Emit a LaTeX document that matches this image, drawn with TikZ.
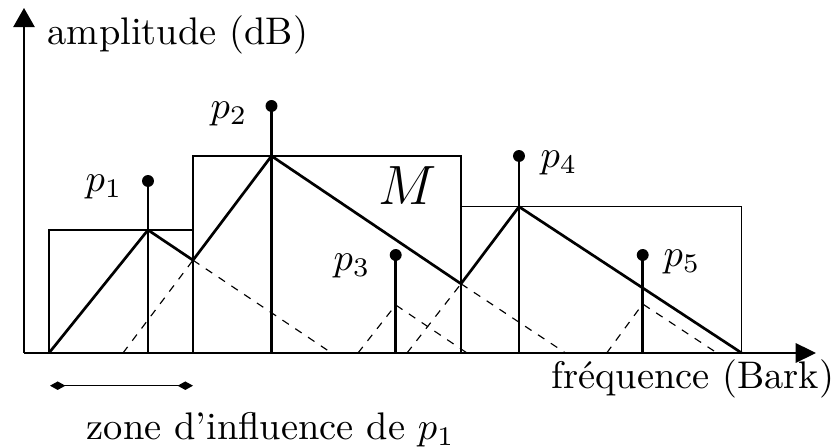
\documentclass[tikz,border=0pt]{standalone}
\usetikzlibrary{arrows.meta}
\begin{document}
\begin{tikzpicture}[x=0.26pt,y=-0.26pt,
  thinline/.style={line width=0.35pt},
  maskline/.style={line width=0.7pt, line join=miter},
  stemline/.style={line width=0.65pt},
  dashline/.style={line width=0.3pt, dash pattern=on 2pt off 2pt},
  dotnode/.style={circle, fill, inner sep=0pt, minimum size=3.1pt},
  lbl/.style={inner sep=0pt}]
\useasboundingbox (0,0) rectangle (839,447);
% axes
\coordinate (O) at (24,353);
\coordinate (Ytop) at (24,8);
\coordinate (Xend) at (816,353);
\draw[thinline,-{Triangle[length=5pt,width=5.6pt]}] (O) -- (Ytop);
\draw[thinline,-{Triangle[length=5.3pt,width=5.1pt]}] (O) -- (Xend);
% rectangles
\draw[thinline] (49,353) rectangle (193,230);
\draw[thinline] (193,353) rectangle (461,156);
\draw[thinline] (461,353) rectangle (741.7,206.7);
% peaks and bases
\coordinate (pk1) at (148,230);
\coordinate (pk2) at (271.5,156);
\coordinate (pk3) at (395.7,305);
\coordinate (pk4) at (519,206.7);
\coordinate (pk5) at (642.7,304);
\coordinate (b1) at (148,353);
\coordinate (b2) at (271.5,353);
\coordinate (b3) at (395.7,353);
\coordinate (b4) at (519,353);
\coordinate (b5) at (642.7,353);
\coordinate (c12) at (193,260.2);
\coordinate (c24) at (461,283.8);
\coordinate (m0) at (49,353);
\coordinate (m5) at (741.7,353);
% dashed partial curves
\draw[dashline] (c12) -- (331.6,353);
\draw[dashline] (123,353) -- (c12);
\draw[dashline] (c24) -- (565.5,353);
\draw[dashline] (358,353) -- (pk3) -- (467,353);
\draw[dashline] (407,353) -- (c24);
\draw[dashline] (606.7,353) -- (pk5) -- (717,353);
% masking curve
\draw[maskline] (m0) -- (pk1) -- (c12) -- (pk2) -- (c24) -- (pk4) -- (m5);
% stems and dots
\node[dotnode] (d1) at (148,181) {};
\node[dotnode] (d2) at (271.5,106) {};
\node[dotnode] (d3) at (395.7,255) {};
\node[dotnode] (d4) at (519,156) {};
\node[dotnode] (d5) at (642.7,255) {};
\draw[stemline] (b1) -- (d1.center);
\draw[stemline] (b2) -- (d2.center);
\draw[stemline] (b3) -- (d3.center);
\draw[stemline] (b4) -- (d4.center);
\draw[stemline] (b5) -- (d5.center);
% labels
\node[lbl] (l1) at (104,187) {$p_1$};
\node[lbl] (l2) at (229,114) {$p_2$};
\node[lbl] (l3) at (352,266) {$p_3$};
\node[lbl] (l4) at (559,163) {$p_4$};
\node[lbl] (l5) at (682,262) {$p_5$};
\node[lbl] (lM) at (408,186) {\Large $M$};
\node[lbl, anchor=base west] (ylab) at (47,45) {amplitude (dB)};
\node[lbl, anchor=base east] (xlab) at (835,389) {fréquence (Bark)};
% zone of influence
\coordinate (z1) at (50,385.7);
\coordinate (z2) at (193,385.7);
\draw[thinline,{Kite[length=4pt,width=2.2pt,inset=2pt]}-{Kite[length=4pt,width=2.2pt,inset=2pt]}] (z1) -- (z2);
\node[lbl, anchor=base west] (zlab) at (86,440) {zone d'influence de $p_1$};
\end{tikzpicture}
\end{document}
